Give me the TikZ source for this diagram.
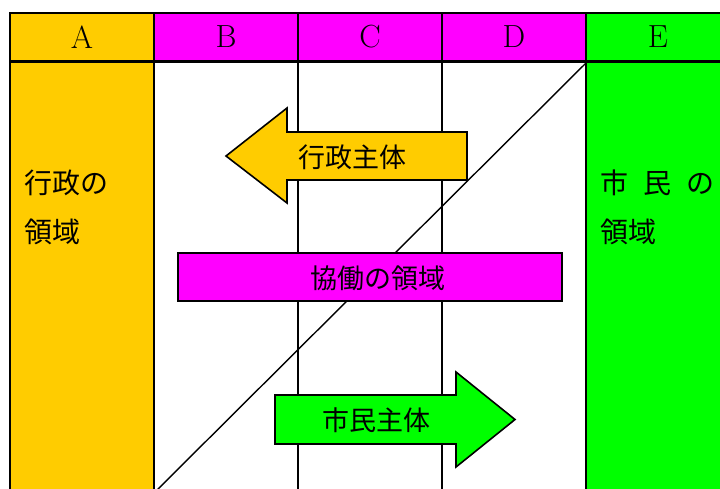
\documentclass[tikz,border=0pt]{standalone}
\usepackage{fontspec}
\newfontfamily\jp{Noto Sans CJK JP}
\definecolor{cyel}{HTML}{FFCC00}
\definecolor{cmag}{HTML}{FF00FF}
\definecolor{cgrn}{HTML}{00FF00}
\begin{document}
\begin{tikzpicture}[x=1pt,y=-1pt,
  hdr/.style={draw=black,line width=2pt,minimum width=144pt,minimum height=48pt,inner sep=0pt,font=\fontsize{32}{32}\selectfont},
  colbox/.style={draw=black,line width=2pt,minimum width=144pt,minimum height=440pt,inner sep=0pt,anchor=north},
  shapeln/.style={draw=black,line width=1.6pt,line join=miter},
  jlabel/.style={font=\jp\fontsize{27}{27}\selectfont,inner sep=0pt},
  side/.style={font=\jp\fontsize{28}{28}\selectfont,inner sep=0pt,anchor=west}]
\useasboundingbox (0,0) rectangle (720,488);
\clip (0,0) rectangle (720,488);
% columns
\node[colbox,fill=cyel] (colA) at (82,61) {};
\node[colbox,fill=white] (colB) at (226,61) {};
\node[colbox,fill=white] (colC) at (370,61) {};
\node[colbox,fill=white] (colD) at (514,61) {};
\node[colbox,fill=cgrn] (colE) at (658,61) {};
% headers
\node[hdr,fill=cyel] (hA) at (82,37) {A};
\node[hdr,fill=cmag] (hB) at (226,37) {B};
\node[hdr,fill=cmag] (hC) at (370,37) {C};
\node[hdr,fill=cmag] (hD) at (514,37) {D};
\node[hdr,fill=cgrn] (hE) at (658,37) {E};
% diagonal
\coordinate (dend) at (156,491);
\draw[line width=1.4pt] (hD.south east) -- (dend);
% side texts
\node[side] (ta1) at (24,183) {行政の};
\node[side] (ta2) at (24,232) {領域};
\node[side] (te1) at (600,183) {市\hspace{15pt}民\hspace{15pt}の};
\node[side] (te2) at (600,232) {領域};
% yellow arrow (left)
\draw[shapeln,fill=cyel] (226,156) -- (287,108) -- (287,132) -- (467,132) -- (467,180) -- (287,180) -- (287,203) -- cycle;
\node[jlabel] (gyo) at (352,157) {行政主体};
% magenta box
\node[shapeln,fill=cmag,minimum width=384pt,minimum height=48pt,inner sep=0pt] (kyo) at (370,277) {};
\node[jlabel] (kyot) at (378,278) {協働の領域};
% green arrow (right)
\draw[shapeln,fill=cgrn] (515,419.5) -- (456,372) -- (456,395) -- (275,395) -- (275,444) -- (456,444) -- (456,467) -- cycle;
\node[jlabel] (shi) at (376,420) {市民主体};
\end{tikzpicture}
\end{document}
